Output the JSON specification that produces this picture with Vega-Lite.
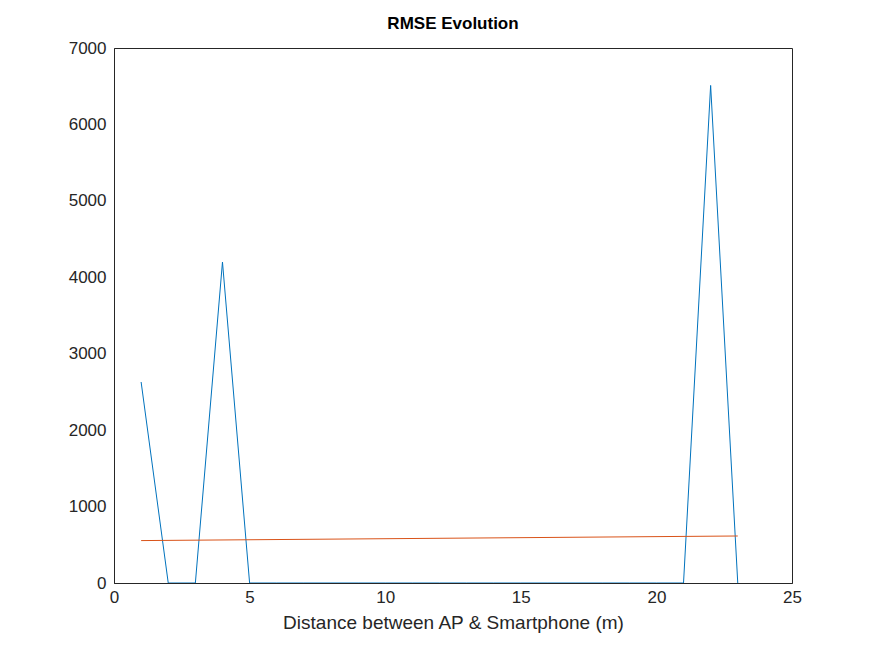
{
"$schema":"https://vega.github.io/schema/vega-lite/v6.json",
"width":678,"height":535,
"autosize":{"type":"none"},
"padding":{"left":114,"top":48,"right":83,"bottom":73},
"background":"white",
"config":{"view":{"stroke":"#262626","strokeWidth":1},"font":"Liberation Sans"},
"title":{"text":"RMSE Evolution","fontSize":17,"fontWeight":"bold","color":"#000","offset":6,"font":"Liberation Sans"},
"data":{"values":[
{"d":1,"rmse":2630,"s":"RMSE"},{"d":2,"rmse":0,"s":"RMSE"},{"d":3,"rmse":0,"s":"RMSE"},{"d":4,"rmse":4200,"s":"RMSE"},{"d":5,"rmse":0,"s":"RMSE"},{"d":6,"rmse":0,"s":"RMSE"},{"d":7,"rmse":0,"s":"RMSE"},{"d":8,"rmse":0,"s":"RMSE"},{"d":9,"rmse":0,"s":"RMSE"},{"d":10,"rmse":0,"s":"RMSE"},{"d":11,"rmse":0,"s":"RMSE"},{"d":12,"rmse":0,"s":"RMSE"},{"d":13,"rmse":0,"s":"RMSE"},{"d":14,"rmse":0,"s":"RMSE"},{"d":15,"rmse":0,"s":"RMSE"},{"d":16,"rmse":0,"s":"RMSE"},{"d":17,"rmse":0,"s":"RMSE"},{"d":18,"rmse":0,"s":"RMSE"},{"d":19,"rmse":0,"s":"RMSE"},{"d":20,"rmse":0,"s":"RMSE"},{"d":21,"rmse":0,"s":"RMSE"},{"d":22,"rmse":6510,"s":"RMSE"},{"d":23,"rmse":0,"s":"RMSE"},
{"d":1,"rmse":555,"s":"Fit"},{"d":23,"rmse":615,"s":"Fit"}
]},
"mark":{"type":"line","strokeWidth":1,"clip":true},
"encoding":{
"x":{"field":"d","type":"quantitative","scale":{"domain":[0,25],"nice":false},
"axis":{"title":"Distance between AP & Smartphone (m)","values":[0,5,10,15,20,25],"format":"d","grid":false,"ticks":false,"domainColor":"#262626","labelColor":"#262626","labelFontSize":17,"titleFontSize":19,"titleFontWeight":"normal","titleColor":"#262626","labelPadding":6,"titlePadding":8,"labelFlush":false}},
"y":{"field":"rmse","type":"quantitative","scale":{"domain":[0,7000],"nice":false},
"axis":{"title":null,"values":[0,1000,2000,3000,4000,5000,6000,7000],"format":"d","grid":false,"ticks":false,"domainColor":"#262626","labelColor":"#262626","labelFontSize":17,"labelPadding":8,"labelFlush":false}},
"color":{"field":"s","type":"nominal","scale":{"domain":["RMSE","Fit"],"range":["#0072BD","#D95319"]},"legend":null}
}
}
